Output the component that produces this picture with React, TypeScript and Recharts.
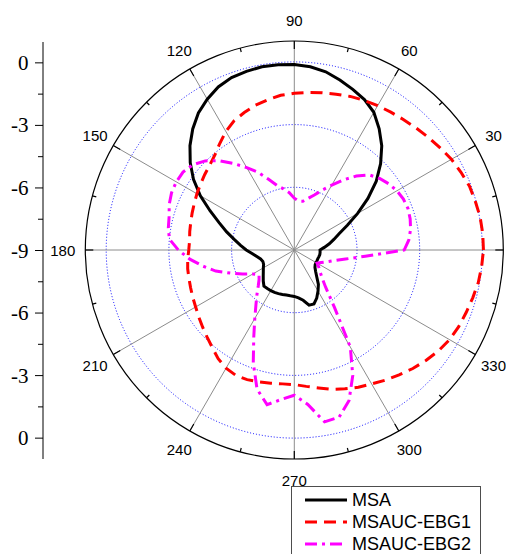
import React from 'react';
import {
  RadarChart,
  Radar,
  PolarGrid,
  PolarAngleAxis,
  PolarRadiusAxis,
  Legend,
  LineChart,
  XAxis,
  YAxis,
} from 'recharts';

// angle in degrees, 0 = right, counter-clockwise
const angles = [
  0, 5, 10, 15, 20, 25, 30, 35, 40, 45, 50, 55,
  60, 65, 70, 75, 80, 85, 90, 95, 100, 105, 110, 115,
  120, 125, 130, 135, 140, 145, 150, 155, 160, 165, 170, 175,
  180, 185, 190, 195, 200, 205, 210, 215, 220, 225, 230, 235,
  240, 245, 250, 255, 260, 265, 270, 275, 280, 285, 290, 295,
  300, 305, 310, 315, 320, 325, 330, 335, 340, 345, 350, 355,
];

const msa = [
  -7.77, -7.56, -7.3, -7.04, -6.72, -6.2, -5.5, -4.7, -3.88, -3.16, -2.49, -1.92,
  -1.39, -1.06, -0.82, -0.58, -0.34, -0.2, -0.12, -0.1, -0.1, -0.15, -0.22, -0.39,
  -0.67, -1.0, -1.44, -1.94, -2.5, -3.11, -3.81, -4.55, -5.17, -5.65, -6.08, -6.42,
  -6.7, -6.99, -7.18, -7.33, -7.4, -7.38, -7.29, -7.19, -7.06, -6.9, -6.74, -6.75,
  -6.75, -6.76, -6.78, -6.8, -6.81, -6.8, -6.78, -6.7, -6.56, -6.27, -6.25, -6.46,
  -6.73, -6.99, -7.33, -7.56, -7.71, -7.78, -7.8, -7.8, -7.8, -7.78, -7.76, -7.76,
];

const ebg1 = [
  0.05, 0.05, 0.03, -0.03, -0.08, -0.2, -0.32, -0.48, -0.62, -0.75, -0.86, -0.95,
  -1.02, -1.1, -1.18, -1.28, -1.36, -1.44, -1.5, -1.57, -1.7, -1.83, -2.0, -2.18,
  -2.45, -2.78, -3.08, -3.27, -3.4, -3.52, -3.62, -3.72, -3.8, -3.87, -3.92, -3.97,
  -3.95, -3.88, -3.82, -3.78, -3.72, -3.64, -3.55, -3.42, -3.27, -3.1, -2.9, -2.65,
  -2.47, -2.38, -2.4, -2.47, -2.53, -2.57, -2.56, -2.45, -2.3, -2.1, -1.93, -1.75,
  -1.6, -1.4, -1.2, -0.98, -0.78, -0.58, -0.42, -0.32, -0.25, -0.16, -0.06, 0.0,
];

const ebg2 = [
  -3.74, -3.5, -3.35, -3.26, -3.21, -3.24, -3.33, -3.48, -3.67, -3.92, -4.38, -4.9,
  -5.42, -5.84, -6.2, -6.44, -6.63, -6.65, -6.52, -6.25, -6.03, -5.8, -5.4, -4.9,
  -4.45, -3.95, -3.42, -2.97, -2.66, -2.5, -2.48, -2.52, -2.63, -2.8, -2.88, -3.0,
  -3.45, -3.98, -4.56, -5.11, -5.76, -6.27, -6.7, -6.94, -6.8, -6.56, -6.22, -5.8,
  -5.22, -4.41, -3.26, -2.11, -1.49, -1.82, -2.05, -1.58, -0.65, -0.72, -1.34, -2.38,
  -3.64, -5.65, -6.66, -7.13, -7.39, -7.57, -7.74, -7.58, -7.35, -7.03, -6.51, -5.59,
];

const angleTicks = [0, 15, 30, 45, 60, 75, 90, 105, 120, 135, 150, 165, 180, 195, 210, 225, 240, 255, 270, 285, 300, 315, 330, 345];
const spokeAngles = [0, 30, 60, 90, 120, 150, 180, 210, 240, 270, 300, 330];
const ringDb = [-6, -3, 0];
// left axis position: |p| - 9 gives the dB label (mirrored about the centre)
const leftTicks = [-9, -7.5, -6, -4.5, -3, -1.5, 0, 1.5, 3, 4.5, 6, 7.5, 9];

const series = [
  { key: 'msa', name: 'MSA', color: '#000000', dash: undefined as string | undefined },
  { key: 'ebg1', name: 'MSAUC-EBG1', color: '#ff0000', dash: '12 7' },
  { key: 'ebg2', name: 'MSAUC-EBG2', color: '#ff00ff', dash: '12 5 3 5' },
];

const data = angles.map((angle, i) => ({ angle, msa: msa[i], ebg1: ebg1[i], ebg2: ebg2[i] }));
const leftData = leftTicks.map((p) => ({ p }));

const W = 506;
const H = 546;
const CX = 286.3;
const CY = 242;
const R = 209;
const DB_MIN = -9;
const DB_MAX = 1;
const SANS = "'Liberation Sans', Arial, sans-serif";
const SERIF = "'Liberation Serif', 'Times New Roman', serif";

const ringRadius = (db: number) => ((db - DB_MIN) / (DB_MAX - DB_MIN)) * R;

const AngleTick = (props: any) => {
  const value = Number(props.payload?.value ?? 0);
  const rad = (value * Math.PI) / 180;
  const c = Math.cos(rad);
  const s = -Math.sin(rad);
  const major = value % 30 === 0;
  const len = major ? 8 : 4;
  let x = CX + 230 * c;
  let anchor: 'start' | 'middle' | 'end' = 'middle';
  if (value === 0) {
    x = CX + 219;
    anchor = 'start';
  } else if (value === 180) {
    x = CX - 219;
    anchor = 'end';
  }
  return (
    <g>
      <line x1={CX + R * c} y1={CY + R * s} x2={CX + (R - len) * c} y2={CY + (R - len) * s} stroke="#000" strokeWidth={1.2} />
      {major && (
        <text
          x={x}
          y={CY + 230 * s}
          textAnchor={anchor}
          dominantBaseline="central"
          style={{ fontFamily: SANS, fontSize: 15 }}
          fill="#000"
        >
          {value}
        </text>
      )}
    </g>
  );
};

const DbTick = (props: any) => {
  const { x, y, payload } = props;
  const p = Number(payload.value);
  const major = Math.abs(p) % 3 === 0;
  return (
    <g>
      <line x1={x - (major ? 8 : 5)} x2={x} y1={y} y2={y} stroke="#000" strokeWidth={1} />
      {major && (
        <text
          x={x - 14.5}
          y={y}
          textAnchor="end"
          dominantBaseline="central"
          style={{ fontFamily: SERIF, fontSize: 21 }}
          fill="#000"
        >
          {Math.abs(p) + DB_MIN}
        </text>
      )}
    </g>
  );
};

const LegendBox = () => (
  <div
    style={{
      border: '1px solid #4d4d4d',
      background: '#fff',
      paddingTop: 2,
      width: 190,
      height: 90,
      boxSizing: 'border-box',
    }}
  >
    {series.map((s) => (
      <div key={s.key} style={{ display: 'flex', alignItems: 'center', height: 22 }}>
        <svg width={57} height={22} style={{ display: 'block' }}>
          <line x1={13} x2={55} y1={11} y2={11} stroke={s.color} strokeWidth={3} strokeDasharray={s.dash} />
        </svg>
        <span style={{ fontFamily: SANS, fontSize: 18, marginLeft: 3, color: '#000', lineHeight: '22px' }}>{s.name}</span>
      </div>
    ))}
  </div>
);

export default function App() {
  return (
    <div style={{ position: 'relative', width: W, height: H, overflow: 'hidden' }}>
      <RadarChart
        width={W}
        height={H}
        data={data}
        cx={CX}
        cy={CY}
        outerRadius={R}
        startAngle={0}
        endAngle={360}
        margin={{ top: 0, right: 0, bottom: 0, left: 0 }}
      >
        <PolarGrid
          gridType="circle"
          radialLines={false}
          polarRadius={ringDb.map(ringRadius)}
          stroke="#0000ff"
          strokeDasharray="1 2"
          strokeWidth={1}
        />
        <PolarGrid gridType="circle" polarRadius={[]} polarAngles={spokeAngles} stroke="#8c8c8c" strokeWidth={1} />
        <PolarRadiusAxis type="number" domain={[DB_MIN, DB_MAX]} angle={0} tick={false} axisLine={false} />
        <PolarAngleAxis
          dataKey="angle"
          type="number"
          domain={[0, 360]}
          ticks={angleTicks}
          axisLineType="circle"
          axisLine={{ stroke: '#000', strokeWidth: 1.2 }}
          tickLine={false}
          tick={<AngleTick />}
        />
        {series.map((s) => (
          <Radar
            key={s.key}
            dataKey={s.key}
            name={s.name}
            stroke={s.color}
            strokeWidth={3}
            strokeDasharray={s.dash}
            fill="none"
            fillOpacity={0}
            dot={false}
            isAnimationActive={false}
          />
        ))}
        <Legend content={<LegendBox />} wrapperStyle={{ left: 283, top: 478, width: 190 }} />
      </RadarChart>
      <div style={{ position: 'absolute', left: 0, top: 0 }}>
        <LineChart width={60} height={H} data={leftData} margin={{ top: 34, right: 0, bottom: 95, left: 0 }}>
          <XAxis dataKey="p" hide />
          <YAxis
            type="number"
            domain={[-10, 10]}
            ticks={leftTicks}
            interval={0}
            width={35}
            tickLine={false}
            tickSize={0}
            tickMargin={0}
            axisLine={{ stroke: '#000', strokeWidth: 1 }}
            tick={<DbTick />}
            allowDataOverflow
          />
        </LineChart>
      </div>
    </div>
  );
}
